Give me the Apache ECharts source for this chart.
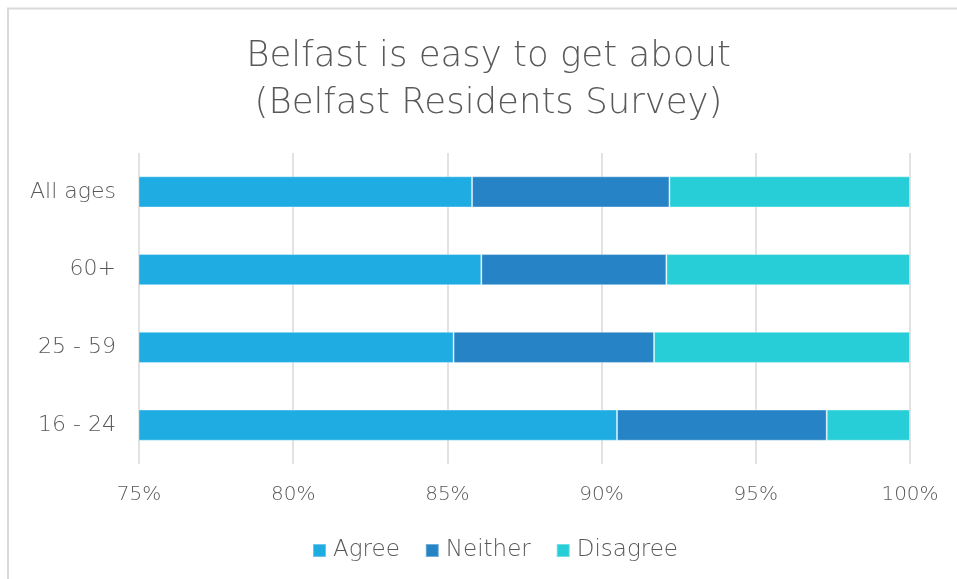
<!DOCTYPE html>
<html>
<head>
<meta charset="utf-8">
<script src="https://cdn.jsdelivr.net/npm/echarts@6/dist/echarts.min.js"></script>
<style>
  html, body { margin: 0; padding: 0; background: #fff; }
  #chart { width: 957px; height: 579px; }
</style>
</head>
<body>
<div id="chart"></div>
<script>
// Age groups, bottom to top as the category axis lays them out
const categories = ['16 - 24', '25 - 59', '60+', 'All ages'];
const seriesNames = ['Agree', 'Neither', 'Disagree'];
// Share of respondents (%) per age group
const agree = [90.5, 85.2, 86.1, 85.8];
const neither = [6.8, 6.5, 6.0, 6.4];
const disagree = [2.7, 8.3, 7.9, 7.8];
const tickLabels = ['75%', '80%', '85%', '90%', '95%', '100%'];

const colors = ['#1EACE2', '#2683C6', '#27CED7'];
const textColor = '#595959';
const fontFamily = '"DejaVu Sans", sans-serif';

const chart = echarts.init(document.getElementById('chart'), null, { renderer: 'canvas' });

const values = [agree, neither, disagree];

chart.setOption({
  backgroundColor: '#ffffff',
  animation: false,
  color: colors,
  title: {
    text: 'Belfast is easy to get about\n(Belfast Residents Survey)',
    left: 488.5,
    top: 33,
    padding: 0,
    textAlign: 'center',
    textStyle: {
      color: textColor,
      fontFamily: fontFamily,
      fontWeight: 200,
      fontSize: 35.5,
      lineHeight: 47
    }
  },
  legend: {
    data: seriesNames,
    top: 534,
    left: 307,
    itemWidth: 13,
    itemHeight: 13,
    itemGap: 25,
    icon: 'rect',
    textStyle: { color: textColor, fontFamily: fontFamily, fontWeight: 200, fontSize: 23, padding: [0, 0, 0, 2] }
  },
  grid: {
    left: 139,
    right: 47,
    top: 153,
    bottom: 115,
    containLabel: false
  },
  xAxis: {
    type: 'value',
    min: 75,
    max: 100,
    interval: 5,
    axisLine: { show: false },
    axisTick: { show: false },
    splitLine: { show: true, lineStyle: { color: '#d9d9d9', width: 1.5 } },
    axisLabel: {
      color: textColor,
      fontFamily: fontFamily,
      fontWeight: 200,
      fontSize: 20,
      margin: 21,
      formatter: function (v) { return tickLabels[Math.round((v - 75) / 5)]; }
    }
  },
  yAxis: {
    type: 'category',
    data: categories,
    axisLine: { show: false },
    axisTick: { show: false },
    axisLabel: { color: textColor, fontFamily: fontFamily, fontWeight: 200, fontSize: 22, margin: 23 }
  },
  series: seriesNames.map(function (name, i) {
    return {
      name: name,
      type: 'bar',
      stack: 'total',
      barWidth: '40%',
      data: values[i],
      itemStyle: { color: colors[i], borderColor: 'rgba(255,255,255,0.35)', borderWidth: 1 }
    };
  }),
  graphic: [{
    type: 'rect',
    shape: { x: 8, y: 8.5, width: 1200, height: 1200 },
    style: { fill: 'none', stroke: '#d9d9d9', lineWidth: 2 },
    silent: true,
    z: -1
  }]
});
</script>
</body>
</html>
